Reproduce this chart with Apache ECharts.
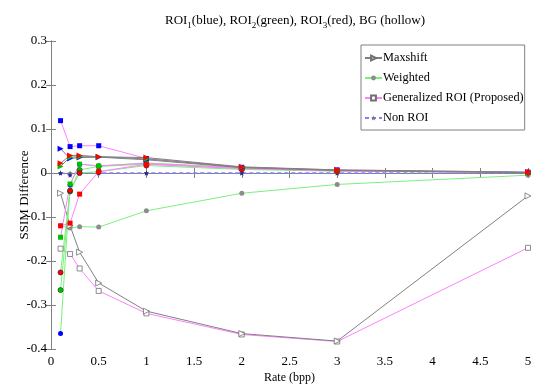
<!DOCTYPE html>
<html>
<head>
<meta charset="utf-8">
<script src="https://cdn.jsdelivr.net/npm/echarts@6/dist/echarts.min.js"></script>
<style>
  html, body { margin: 0; padding: 0; background: #fff; }
  #chart { width: 538px; height: 387px; }
</style>
</head>
<body>
<div id="chart"></div>
<script>
// bit rates (bpp)
const rates = [0.1, 0.2, 0.3, 0.5, 1, 2, 3, 5];

// Maxshift
const maxshiftRoi1 = [0.055, 0.033, 0.035, 0.036, 0.030, 0.012, 0.006, 0.001];
const maxshiftRoi2 = [0.015, 0.036, 0.037, 0.037, 0.032, 0.013, 0.006, 0.001];
const maxshiftRoi3 = [0.022, 0.040, 0.040, 0.037, 0.035, 0.014, 0.007, 0.002];
const maxshiftBg = [-0.046, -0.120, -0.180, -0.250, -0.314, -0.365, -0.382, -0.052];

// Weighted
const weightedRoi1 = [-0.365, -0.027, 0.020, 0.016, 0.023, 0.012, 0.006, 0.001];
const weightedRoi2 = [-0.266, -0.042, 0.007, 0.015, 0.020, 0.010, 0.005, 0.001];
const weightedRoi3 = [-0.226, -0.040, 0.000, 0.003, 0.017, 0.008, 0.004, 0.001];
const weightedBg = [-0.120, -0.125, -0.122, -0.123, -0.086, -0.046, -0.026, -0.005];

// Generalized ROI (Proposed)
const generalRoi1 = [0.119, 0.060, 0.062, 0.062, 0.033, 0.013, 0.007, 0.002];
const generalRoi2 = [-0.146, -0.025, 0.020, 0.016, 0.022, 0.011, 0.005, 0.001];
const generalRoi3 = [-0.120, -0.114, -0.048, 0.003, 0.020, 0.010, 0.005, 0.001];
const generalBg = [-0.172, -0.184, -0.217, -0.268, -0.319, -0.367, -0.383, -0.170];

// Non ROI
const nonRoiRoi = [0, -0.005, 0, 0, 0, 0, 0, 0];
const nonRoiBg = [0, 0, 0, 0, 0, 0, 0, 0];

const legendNames = ['Maxshift', 'Weighted', 'Generalized ROI (Proposed)', 'Non ROI'];

const FONT = '"Liberation Serif", "DejaVu Serif", serif';
const STAR = 'path://M0,-10L2.9,-4L9.5,-3.1L4.7,1.5L5.9,8.1L0,5L-5.9,8.1L-4.7,1.5L-9.5,-3.1L-2.9,-4Z';

const methods = {
  maxshift: { line: '#808080', symbol: 'triangle', rotate: -90, size: 6, dash: 'solid' },
  weighted: { line: '#7cf07c', symbol: 'circle', rotate: 0, size: 5, dash: 'solid' },
  general: { line: '#ff80ff', symbol: 'rect', rotate: 0, size: 5, dash: 'solid' },
  nonroi: { line: '#8080ff', symbol: STAR, rotate: 0, size: 5, dash: [4, 3] }
};

const roiFill = { roi1: '#0000ff', roi2: '#00c000', roi3: '#ff0000' };

function mk(name, m, values, fill, border) {
  const s = methods[m];
  return {
    name: name,
    type: 'line',
    data: rates.map((r, i) => [r, values[i]]),
    symbol: s.symbol,
    symbolRotate: s.rotate,
    symbolSize: s.size,
    showAllSymbol: true,
    lineStyle: { color: s.line, width: 1, type: s.dash },
    itemStyle: { color: fill, borderColor: border, borderWidth: border ? 0.8 : 0 },
    emphasis: { disabled: true },
    animation: false
  };
}

const series = [
  mk('Non ROI', 'nonroi', nonRoiBg, '#7a7a7a', null),
  mk('Non ROI 1', 'nonroi', nonRoiRoi, '#2a2a90', null),
  mk('Generalized ROI (Proposed)', 'general', generalBg, '#ffffff', '#707070'),
  mk('Weighted', 'weighted', weightedBg, '#8c8c8c', null),
  mk('Maxshift', 'maxshift', maxshiftBg, '#ffffff', '#707070'),
  mk('Weighted ROI1', 'weighted', weightedRoi1, roiFill.roi1, null),
  mk('Weighted ROI2', 'weighted', weightedRoi2, roiFill.roi2, '#205020'),
  mk('Weighted ROI3', 'weighted', weightedRoi3, roiFill.roi3, '#502020'),
  mk('Generalized ROI1', 'general', generalRoi1, roiFill.roi1, null),
  mk('Generalized ROI2', 'general', generalRoi2, roiFill.roi2, null),
  mk('Generalized ROI3', 'general', generalRoi3, roiFill.roi3, null),
  mk('Maxshift ROI1', 'maxshift', maxshiftRoi1, roiFill.roi1, null),
  mk('Maxshift ROI2', 'maxshift', maxshiftRoi2, roiFill.roi2, null),
  mk('Maxshift ROI3', 'maxshift', maxshiftRoi3, roiFill.roi3, null)
];

const axisLine = { show: true, lineStyle: { color: '#808080', width: 1 } };
const axisTick = { show: true, inside: true, length: 5, lineStyle: { color: '#808080' } };

const option = {
  animation: false,
  title: {
    left: 290,
    top: 6,
    textAlign: 'center',
    text: '{a|ROI}{s|1}{a|(blue), ROI}{s|2}{a|(green), ROI}{s|3}{a|(red), BG (hollow)}',
    textStyle: {
      fontWeight: 'normal',
      rich: {
        a: { fontFamily: FONT, fontSize: 13, fontWeight: 'normal', color: '#000' },
        s: { fontFamily: FONT, fontSize: 9, fontWeight: 'normal', color: '#000', padding: [10, 0, 0, 0] }
      }
    }
  },
  legend: {
    data: legendNames,
    orient: 'vertical',
    left: 361,
    top: 45,
    padding: [7, 1, 6, 3],
    itemGap: 8,
    itemWidth: 17,
    itemHeight: 6,
    backgroundColor: '#fff',
    borderColor: '#808080',
    borderWidth: 1,
    borderRadius: 0,
    selectedMode: false,
    textStyle: { fontFamily: FONT, fontSize: 12.3, color: '#000', padding: [0, 0, 0, -4] }
  },
  grid: { left: 51, right: 10, top: 41, bottom: 38, outerBoundsMode: 'none' },
  xAxis: [
    {
      type: 'value',
      min: 0, max: 5, interval: 0.5,
      name: 'Rate (bpp)',
      nameLocation: 'middle',
      nameGap: 23,
      nameMoveOverlap: false,
      nameTextStyle: { fontFamily: FONT, fontSize: 12, color: '#000' },
      axisLine: axisLine,
      axisTick: axisTick,
      splitLine: { show: false },
      axisLabel: { fontFamily: FONT, fontSize: 13, color: '#000', margin: 6 }
    },
    {
      type: 'value', position: 'top',
      min: 0, max: 5, interval: 0.5,
      axisLine: axisLine, axisTick: axisTick,
      splitLine: { show: false }, axisLabel: { show: false }
    }
  ],
  yAxis: [
    {
      type: 'value',
      min: -0.4, max: 0.3, interval: 0.1,
      name: 'SSIM Difference',
      nameLocation: 'middle',
      nameGap: 20,
      nameMoveOverlap: false,
      nameTextStyle: { fontFamily: FONT, fontSize: 13, color: '#000' },
      axisLine: axisLine,
      axisTick: axisTick,
      splitLine: { show: false },
      axisLabel: { fontFamily: FONT, fontSize: 13, color: '#000', margin: 4 }
    },
    {
      type: 'value', position: 'right',
      min: -0.4, max: 0.3, interval: 0.1,
      axisLine: axisLine, axisTick: axisTick,
      splitLine: { show: false }, axisLabel: { show: false }
    }
  ],
  series: series
};

const chart = echarts.init(document.getElementById('chart'));
chart.setOption(option);
</script>
</body>
</html>
